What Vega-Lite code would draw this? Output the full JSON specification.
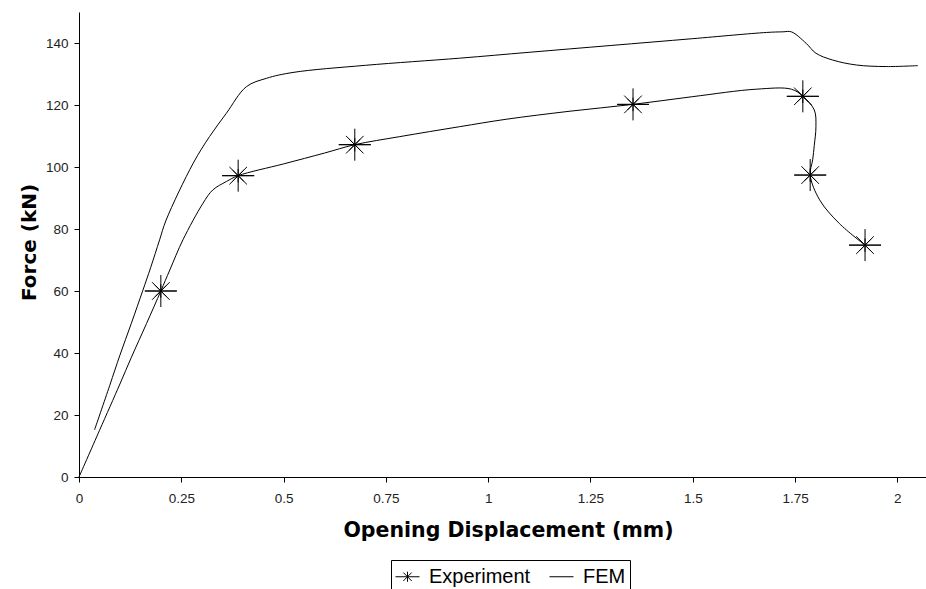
{
  "$schema": "https://vega.github.io/schema/vega-lite/v6.json",
  "width": 847,
  "height": 465,
  "autosize": {"type": "none"},
  "padding": {"left": 79, "top": 12, "right": 0, "bottom": 112},
  "background": "white",
  "config": {"view": {"stroke": null}, "font": "Liberation Sans"},
  "datasets": {
    "curves": [
      {"series": "Experiment", "idx": 1, "x": 0, "y": 0},
      {"series": "Experiment", "idx": 2, "x": 0.05, "y": 15},
      {"series": "Experiment", "idx": 3, "x": 0.1, "y": 30},
      {"series": "Experiment", "idx": 4, "x": 0.128, "y": 38.6},
      {"series": "Experiment", "idx": 5, "x": 0.165, "y": 49.5},
      {"series": "Experiment", "idx": 6, "x": 0.2, "y": 60},
      {"series": "Experiment", "idx": 7, "x": 0.222, "y": 66.8},
      {"series": "Experiment", "idx": 8, "x": 0.254, "y": 76.5},
      {"series": "Experiment", "idx": 9, "x": 0.303, "y": 88.3},
      {"series": "Experiment", "idx": 10, "x": 0.327, "y": 92.6},
      {"series": "Experiment", "idx": 11, "x": 0.36, "y": 95.3},
      {"series": "Experiment", "idx": 12, "x": 0.389, "y": 97.2},
      {"series": "Experiment", "idx": 13, "x": 0.5, "y": 101},
      {"series": "Experiment", "idx": 14, "x": 0.6, "y": 104.5},
      {"series": "Experiment", "idx": 15, "x": 0.674, "y": 107.2},
      {"series": "Experiment", "idx": 16, "x": 0.784, "y": 109.8},
      {"series": "Experiment", "idx": 17, "x": 0.93, "y": 113},
      {"series": "Experiment", "idx": 18, "x": 1.044, "y": 115.4},
      {"series": "Experiment", "idx": 19, "x": 1.2, "y": 118},
      {"series": "Experiment", "idx": 20, "x": 1.354, "y": 120.2},
      {"series": "Experiment", "idx": 21, "x": 1.5, "y": 122.7},
      {"series": "Experiment", "idx": 22, "x": 1.655, "y": 125.1},
      {"series": "Experiment", "idx": 23, "x": 1.741, "y": 125.1},
      {"series": "Experiment", "idx": 24, "x": 1.769, "y": 122.8},
      {"series": "Experiment", "idx": 25, "x": 1.797, "y": 118.4},
      {"series": "Experiment", "idx": 26, "x": 1.801, "y": 113},
      {"series": "Experiment", "idx": 27, "x": 1.797, "y": 107},
      {"series": "Experiment", "idx": 28, "x": 1.793, "y": 102.3},
      {"series": "Experiment", "idx": 29, "x": 1.787, "y": 97.4},
      {"series": "Experiment", "idx": 30, "x": 1.81, "y": 89.4},
      {"series": "Experiment", "idx": 31, "x": 1.858, "y": 81.8},
      {"series": "Experiment", "idx": 32, "x": 1.921, "y": 74.8},
      {"series": "FEM", "idx": 1, "x": 0.038, "y": 15.2},
      {"series": "FEM", "idx": 2, "x": 0.075, "y": 29.5},
      {"series": "FEM", "idx": 3, "x": 0.1, "y": 39.3},
      {"series": "FEM", "idx": 4, "x": 0.128, "y": 49.6},
      {"series": "FEM", "idx": 5, "x": 0.156, "y": 60.2},
      {"series": "FEM", "idx": 6, "x": 0.175, "y": 67.5},
      {"series": "FEM", "idx": 7, "x": 0.197, "y": 76.5},
      {"series": "FEM", "idx": 8, "x": 0.213, "y": 82.9},
      {"series": "FEM", "idx": 9, "x": 0.279, "y": 101.2},
      {"series": "FEM", "idx": 10, "x": 0.319, "y": 109.8},
      {"series": "FEM", "idx": 11, "x": 0.36, "y": 117.3},
      {"series": "FEM", "idx": 12, "x": 0.409, "y": 125.9},
      {"series": "FEM", "idx": 13, "x": 0.458, "y": 128.6},
      {"series": "FEM", "idx": 14, "x": 0.523, "y": 130.5},
      {"series": "FEM", "idx": 15, "x": 0.7, "y": 132.8},
      {"series": "FEM", "idx": 16, "x": 0.93, "y": 135.1},
      {"series": "FEM", "idx": 17, "x": 1.1, "y": 137},
      {"series": "FEM", "idx": 18, "x": 1.3, "y": 139.2},
      {"series": "FEM", "idx": 19, "x": 1.5, "y": 141.4},
      {"series": "FEM", "idx": 20, "x": 1.68, "y": 143.4},
      {"series": "FEM", "idx": 21, "x": 1.72, "y": 143.6},
      {"series": "FEM", "idx": 22, "x": 1.741, "y": 143.6},
      {"series": "FEM", "idx": 23, "x": 1.777, "y": 139.9},
      {"series": "FEM", "idx": 24, "x": 1.801, "y": 136.7},
      {"series": "FEM", "idx": 25, "x": 1.842, "y": 134.5},
      {"series": "FEM", "idx": 26, "x": 1.9, "y": 132.9},
      {"series": "FEM", "idx": 27, "x": 1.973, "y": 132.4},
      {"series": "FEM", "idx": 28, "x": 2.05, "y": 132.7}
    ],
    "markers": [
      {"series": "Experiment", "x": 0.2, "y": 60},
      {"series": "Experiment", "x": 0.389, "y": 97.2},
      {"series": "Experiment", "x": 0.674, "y": 107.2},
      {"series": "Experiment", "x": 1.354, "y": 120.2},
      {"series": "Experiment", "x": 1.769, "y": 122.8},
      {"series": "Experiment", "x": 1.787, "y": 97.4},
      {"series": "Experiment", "x": 1.921, "y": 74.8}
    ]
  },
  "layer": [
    {
      "data": {"name": "curves"},
      "mark": {"type": "line", "color": "black", "strokeWidth": 1, "interpolate": "catmull-rom"},
      "encoding": {
        "x": {
          "field": "x", "type": "quantitative",
          "scale": {"domain": [0, 2.07], "nice": false, "zero": false},
          "axis": {
            "values": [0, 0.25, 0.5, 0.75, 1, 1.25, 1.5, 1.75, 2],
            "format": ".2~f",
            "grid": false,
            "title": "Opening Displacement (mm)",
            "tickSize": 5,
            "labelPadding": 9,
            "labelFont": "Liberation Sans",
            "labelFontSize": 13.5,
            "labelColor": "#222",
            "labelFlush": false,
            "domainColor": "black",
            "tickColor": "black",
            "titleFont": "DejaVu Sans",
            "titleFontWeight": "bold",
            "titleFontSize": 20.5,
            "titleColor": "black",
            "titleBaseline": "top",
            "titleX": 429,
            "titleY": 43.4
          }
        },
        "y": {
          "field": "y", "type": "quantitative",
          "scale": {"domain": [0, 150], "nice": false},
          "axis": {
            "values": [0, 20, 40, 60, 80, 100, 120, 140],
            "grid": false,
            "title": "Force (kN)",
            "tickSize": 5,
            "labelPadding": 6,
            "labelFont": "Liberation Sans",
            "labelFontSize": 13.5,
            "labelColor": "#222",
            "domainColor": "black",
            "tickColor": "black",
            "titleFont": "DejaVu Sans",
            "titleFontWeight": "bold",
            "titleFontSize": 20,
            "titleColor": "black",
            "titleAngle": -90,
            "titleBaseline": "bottom",
            "titleX": -40,
            "titleY": 230
          }
        },
        "detail": {"field": "series", "type": "nominal"},
        "order": {"field": "idx", "type": "quantitative"}
      }
    },
    {
      "data": {"name": "markers"},
      "mark": {
        "type": "point",
        "shape": "M-1,0L1,0M0,-1L0,1M-0.55,-0.55L0.55,0.55M-0.55,0.55L0.55,-0.55",
        "size": 1024,
        "filled": false,
        "color": "black",
        "strokeWidth": 1,
        "opacity": 1
      },
      "encoding": {
        "x": {"field": "x", "type": "quantitative"},
        "y": {"field": "y", "type": "quantitative"}
      }
    },
    {
      "data": {"name": "markers"},
      "mark": {
        "type": "point",
        "size": 1024,
        "filled": false,
        "color": "black",
        "strokeWidth": 1,
        "opacity": 1
      },
      "encoding": {
        "x": {"field": "x", "type": "quantitative"},
        "y": {"field": "y", "type": "quantitative"},
        "shape": {
          "field": "series", "type": "nominal",
          "scale": {
            "domain": ["Experiment", "FEM"],
            "range": ["M-1,0L1,0M0,-0.42L0,0.42M-0.35,-0.35L0.35,0.35M-0.35,0.35L0.35,-0.35", "M-1,0L1,0"]
          },
          "legend": {
            "orient": "none",
            "legendX": 312,
            "legendY": 548,
            "direction": "horizontal",
            "title": null,
            "strokeColor": "black",
            "fillColor": "white",
            "padding": 4,
            "symbolSize": 576,
            "symbolStrokeWidth": 1,
            "symbolStrokeColor": "black",
            "labelFont": "Liberation Sans",
            "labelFontSize": 20,
            "labelColor": "black",
            "labelOffset": 9,
            "columnPadding": 16
          }
        }
      }
    }
  ]
}
